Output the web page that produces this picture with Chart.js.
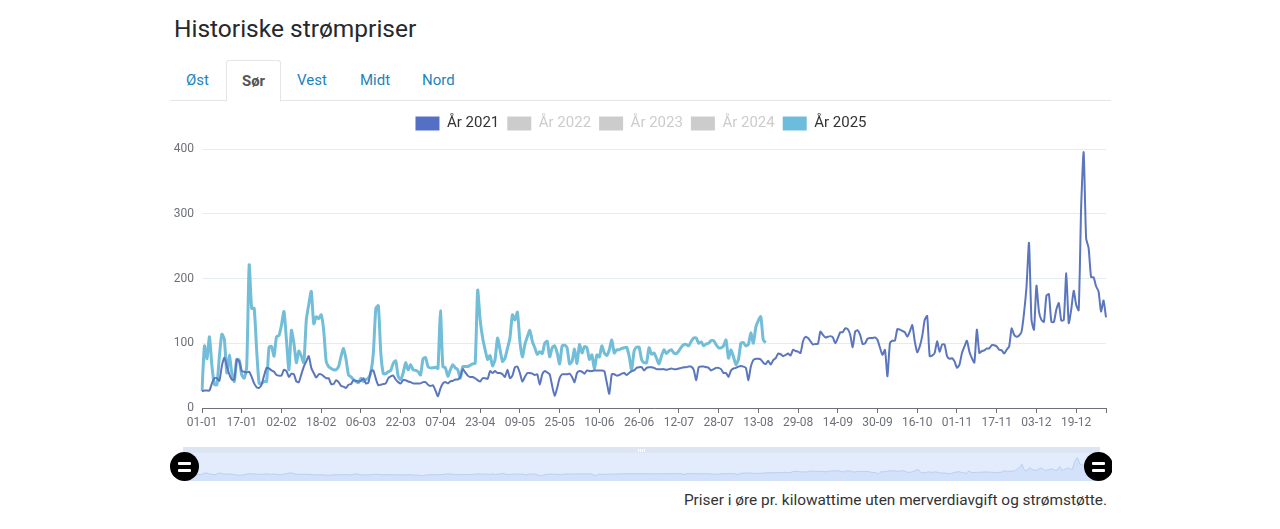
<!DOCTYPE html>
<html lang="no">
<head>
<meta charset="utf-8">
<title>Historiske strømpriser</title>
<script src="https://cdn.jsdelivr.net/npm/chart.js@4"></script>
<style>
html,body{margin:0;padding:0;background:#fff;font-family:Roboto,sans-serif;color:#333;}
#page{position:relative;width:1280px;height:529px;overflow:hidden;}
h2{position:absolute;left:174px;top:14px;margin:0;font-size:24.5px;font-weight:400;line-height:30px;color:#26282b;}
#tabline{position:absolute;left:170px;top:100px;width:941px;height:1px;background:#e6e6e6;}
.tab{position:absolute;top:71px;font-size:15px;line-height:18px;color:#1c84bd;}
#active{position:absolute;left:226px;top:60px;width:53px;height:40px;border:1px solid #e6e6e6;border-bottom:1px solid #fff;border-radius:3px 3px 0 0;background:#fff;text-align:center;line-height:40px;font-size:15px;font-weight:700;color:#555;}
#main{position:absolute;left:170px;top:101px;width:942px;height:334px;}
#sliderTop{position:absolute;left:183px;top:447px;width:917px;height:6px;background:#dde4f2;}
#sliderBody{position:absolute;left:183px;top:453px;width:917px;height:28px;background:#e3ecfc;}
#grip{position:absolute;left:638px;top:449px;width:7px;height:3px;background:repeating-linear-gradient(90deg,#fff 0 1px,transparent 1px 2px);}
#mini{position:absolute;left:183px;top:447px;width:917px;height:34px;}
.handle{position:absolute;top:452px;width:29px;height:29px;border-radius:50%;background:#000;}
.handle i{position:absolute;left:8px;width:13px;height:3px;background:#fff;border-radius:1px;}
#clip{position:absolute;left:170px;top:440px;width:942px;height:50px;overflow:hidden;}
#note{position:absolute;right:173px;top:491px;font-size:15.4px;line-height:18px;color:#333;}
</style>
</head>
<body>
<div id="page">
<h2>Historiske strømpriser</h2>
<div id="tabline"></div>
<div class="tab" style="left:186px">Øst</div>
<div id="active">Sør</div>
<div class="tab" style="left:297px">Vest</div>
<div class="tab" style="left:360px">Midt</div>
<div class="tab" style="left:422px">Nord</div>
<div id="main"><canvas id="prisChart"></canvas></div>
<div id="sliderBody"></div>
<div id="sliderTop"></div>
<div id="mini"><canvas id="miniChart"></canvas></div>
<div id="grip"></div>
<div id="clip">
<div class="handle" style="left:0px;top:12px"><i style="top:10px"></i><i style="top:17px"></i></div>
<div class="handle" style="left:914px;top:12px"><i style="top:10px"></i><i style="top:17px"></i></div>
</div>
<div id="note">Priser i øre pr. kilowattime uten merverdiavgift og strømstøtte.</div>
</div>
<script>
// ================= DATA =================
const legendNames = ["År 2021","År 2022","År 2023","År 2024","År 2025"];
const yTicks = [0,100,200,300,400];
const monthDays = [31,28,31,30,31,30,31,31,30,31,30,31];

const pris2021 = [
26,27,27,27,38,46,46,42,65,78,
65,52,44,44,75,72,57,56,55,56,
48,38,32,31,36,50,62,61,58,56,
51,50,50,59,57,48,53,52,41,40,
52,64,72,80,62,54,47,52,52,49,
46,46,37,37,43,40,34,33,31,36,
37,43,42,41,42,46,38,39,57,58,
45,35,36,37,38,46,49,50,44,40,
38,43,43,41,40,38,38,38,38,40,
40,36,34,35,27,18,30,38,40,38,
41,42,44,44,48,60,55,50,48,48,
46,43,41,46,46,45,57,54,57,54,
54,52,48,59,46,50,63,64,54,41,
48,54,54,53,51,52,36,52,57,55,
52,34,19,31,46,52,52,52,53,48,
40,54,57,56,53,58,57,57,58,58,
58,58,57,39,22,52,52,50,51,53,
54,51,54,57,58,62,63,63,58,62,
63,63,62,60,60,60,60,59,60,61,
60,60,61,62,63,63,64,64,59,43,
63,64,64,63,62,58,60,62,62,60,
54,54,48,58,61,62,64,65,64,62,
43,64,74,76,76,75,70,68,73,67,
74,77,84,83,80,82,84,81,90,88,
87,85,103,110,108,103,98,99,99,118,
113,109,110,111,109,100,108,117,117,123,
122,113,94,118,120,113,99,100,107,108,
108,109,105,93,82,90,49,100,104,104,
122,121,119,117,110,118,128,103,86,95,
111,136,142,80,81,85,103,87,98,98,
80,76,77,72,62,67,85,95,104,87,
77,70,121,85,88,89,92,92,97,97,
95,90,89,84,90,95,123,113,110,112,
118,147,188,255,136,121,189,149,136,133,
173,176,133,133,152,162,135,136,208,131,
152,181,159,151,311,395,262,247,202,202,
188,180,149,166,140
];

const pris2025 = [
26,96,76,110,65,36,36,80,114,106,
54,82,54,41,75,74,51,46,64,221,
154,154,90,38,38,41,41,94,95,80,
110,112,128,149,105,59,120,100,70,88,
80,70,136,160,180,130,141,138,144,120,
72,64,61,59,59,64,80,92,75,51,
48,44,41,39,46,41,44,46,55,85,
154,158,85,53,53,56,58,69,73,49,
44,54,70,59,67,59,58,56,51,76,
78,64,62,62,63,61,150,64,62,49,
59,67,62,59,46,64,64,64,66,68,
69,182,136,108,90,75,81,65,75,108,
90,72,77,92,108,144,136,148,103,79,
98,110,120,103,93,83,87,84,100,103,
79,93,96,85,68,96,97,93,68,72,
91,69,98,85,95,93,75,82,60,82,
79,96,85,81,90,105,85,90,90,92,
93,94,80,59,88,94,94,75,70,70,
93,83,85,77,68,80,90,84,88,90,
85,84,88,94,98,98,96,103,108,108,
100,102,96,99,100,104,104,98,93,93,
96,105,77,90,79,67,75,100,101,96,
98,116,100,125,135,141,105,101
];

// dd-mm for every day of the year
const dager = [];
monthDays.forEach((n,m)=>{
for(let d=1;d<=n;d++){
dager.push(String(d).padStart(2,'0')+"-"+String(m+1).padStart(2,'0'));
}
});

const farger = ["#5470c6","#cccccc","#cccccc","#cccccc","#6dbcdb"];
const textFarger = ["#333333","#cccccc","#cccccc","#cccccc","#333333"];
const serier = [pris2021,[],[],[],pris2025];
const bredder = [2,2,2,2,3];

// extra room under the legend, and legend nudged to the page centre
const legendGap = {
id:"legendGap",
beforeInit(chart){
const fit = chart.legend.fit;
chart.legend.fit = function(){
fit.call(this);
this.height += 8;
};
},
afterLayout(chart){
chart.legend.left += 3;
chart.legend.right += 3;
}
};

// ================= MAIN CHART =================
new Chart(document.getElementById("prisChart"),{
type:"line",
plugins:[legendGap],
data:{
labels:dager,
datasets:legendNames.map((n,i)=>({
label:n,
data:serier[i],
borderColor:i==0 ? "#5b76bd" : (i==4 ? "#72bdd8" : farger[i]),
backgroundColor:farger[i],
borderWidth:bredder[i],
pointRadius:0,
tension:0.2
}))
},
options:{
responsive:true,
maintainAspectRatio:false,
animation:false,
layout:{padding:{top:7,right:6}},
plugins:{
tooltip:{enabled:false},
legend:{
position:"top",
labels:{
boxWidth:24,
boxHeight:14,
padding:8,
color:"#333",
font:{family:"Roboto",size:15},
generateLabels:()=>legendNames.map((n,i)=>({
text:n,
fillStyle:farger[i],
strokeStyle:farger[i],
lineWidth:0,
fontColor:textFarger[i],
datasetIndex:i
}))
}
}
},
scales:{
x:{
type:"category",
afterBuildTicks:s=>{
s.ticks = s.ticks.filter(t=>t.value%16==0 || t.value==dager.length-1);
},
afterFit:s=>{ s.height = 27; },
border:{color:"#6e7079"},
grid:{drawOnChartArea:false,tickLength:5,tickColor:"#6e7079"},
ticks:{
autoSkip:false,
maxRotation:0,
padding:3,
color:"#6e7079",
font:{family:"Roboto",size:12},
callback:function(v){ return v%16==0 ? dager[v] : ""; }
}
},
y:{
min:0,
max:400,
afterBuildTicks:s=>{ s.ticks = yTicks.map(v=>({value:v})); },
afterFit:s=>{ s.width = 32; },
border:{display:false},
grid:{color:"#e3edef",lineWidth:1,tickLength:0},
ticks:{
padding:8,
color:"#6e7079",
font:{family:"Roboto",size:12}
}
}
}
}
});

// ================= SLIDER SHADOW =================
new Chart(document.getElementById("miniChart"),{
type:"line",
data:{
labels:dager,
datasets:[{
data:pris2021,
borderColor:"#bccdee",
backgroundColor:"#d3e1fb",
borderWidth:1,
pointRadius:0,
fill:"start"
}]
},
options:{
responsive:true,
maintainAspectRatio:false,
animation:false,
layout:{padding:0},
plugins:{legend:{display:false},tooltip:{enabled:false}},
scales:{
x:{display:false},
y:{display:false,min:-88,max:610}
}
}
});
</script>
</body>
</html>
